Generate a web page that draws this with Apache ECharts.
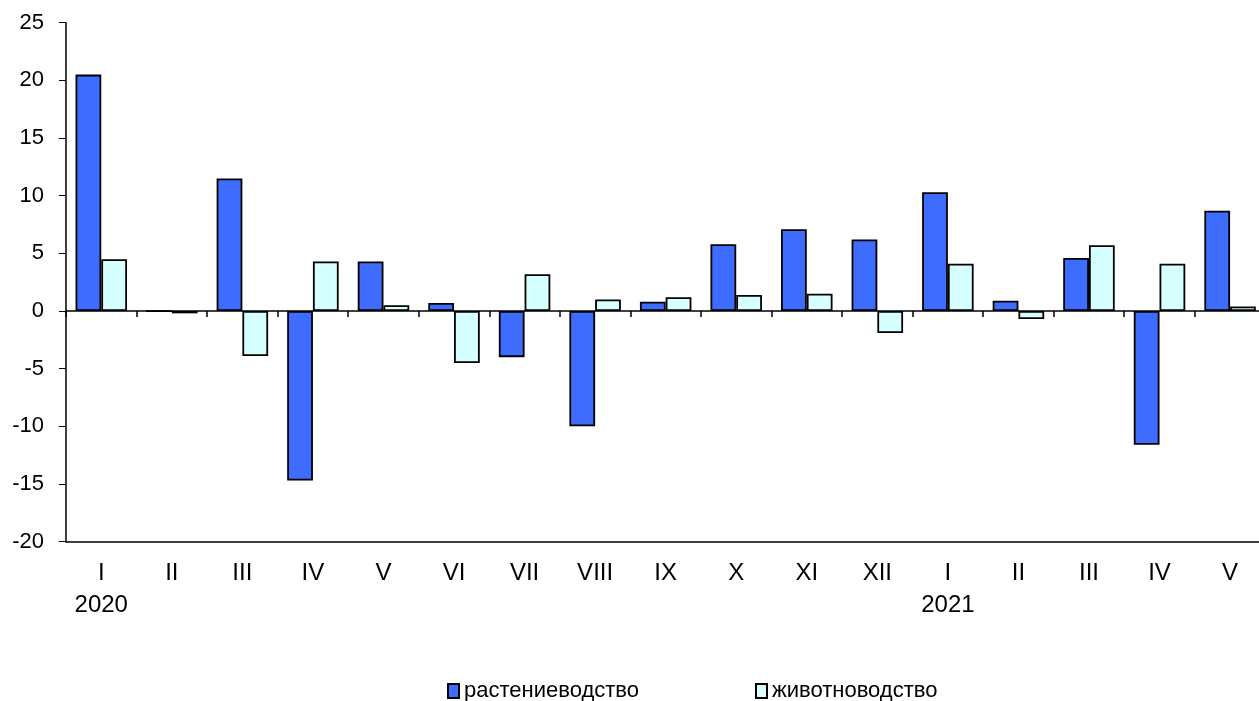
<!DOCTYPE html>
<html>
<head>
<meta charset="utf-8">
<script src="https://cdn.jsdelivr.net/npm/echarts@6/dist/echarts.min.js"></script>
<style>
  html, body { margin: 0; padding: 0; background: #fff; }
  #chart { width: 1259px; height: 701px; }
</style>
</head>
<body>
<div id="chart"></div>
<script>
    // месяцы и годы по оси X
    var months = ['I', 'II', 'III', 'IV', 'V', 'VI', 'VII', 'VIII', 'IX', 'X', 'XI', 'XII', 'I', 'II', 'III', 'IV', 'V'];
    var years = ['2020', '', '', '', '', '', '', '', '', '', '', '', '2021', '', '', '', ''];
    var yTicks = [-20, -15, -10, -5, 0, 5, 10, 15, 20, 25];

    var plantValues = [20.5, 0, 11.5, -14.7, 4.3, 0.7, -4.0, -10.0, 0.8, 5.8, 7.1, 6.2, 10.3, 0.9, 4.6, -11.6, 8.7];
    var animalValues = [4.5, -0.2, -3.9, 4.3, 0.5, -4.5, 3.2, 1.0, 1.2, 1.4, 1.5, -1.9, 4.1, -0.7, 5.7, 4.1, 0.4];

    var categories = months.map(function (m, i) {
        return years[i] ? m + '\n' + years[i] : m;
    });

    var FONT = 'Liberation Sans';
    var BLUE = '#3d6cff';
    var CYAN = '#d6ffff';

    var chart = echarts.init(document.getElementById('chart'));

    chart.setOption({
        animation: false,
        backgroundColor: '#fff',
        textStyle: { fontFamily: FONT, color: '#000' },
        grid: {
            left: 66,
            top: 22.7,
            width: 17 * 70.55,   // область построения обрезана справа, как в исходнике
            height: 519,
            outerBoundsMode: 'none'
        },
        legend: [{
            left: 442,
            top: 675,
            icon: 'rect',
            itemWidth: 11,
            itemHeight: 14,
            itemStyle: { borderColor: '#000', borderWidth: 2 },
            textStyle: { fontFamily: FONT, fontSize: 22, color: '#000' },
            data: ['растениеводство']
        }, {
            left: 750,
            top: 675,
            icon: 'rect',
            itemWidth: 11,
            itemHeight: 14,
            itemStyle: { borderColor: '#000', borderWidth: 2 },
            textStyle: { fontFamily: FONT, fontSize: 22, color: '#000' },
            data: ['животноводство']
        }],
        xAxis: [{
            type: 'category',
            data: categories,
            position: 'bottom',
            axisLine: { onZero: false, lineStyle: { color: '#000', width: 1.5 } },
            axisTick: { show: false },
            axisLabel: {
                interval: 0,
                margin: 16,
                fontSize: 24,
                lineHeight: 32,
                color: '#000',
                fontFamily: FONT
            },
            splitLine: { show: false }
        }, {
            // линия нуля с делениями между категориями
            type: 'category',
            data: categories,
            position: 'top',
            axisLine: { onZero: true, lineStyle: { color: '#000', width: 1.5 } },
            axisTick: { show: true, inside: true, length: 6, lineStyle: { color: '#000', width: 1.5 } },
            axisLabel: { show: false },
            splitLine: { show: false }
        }],
        yAxis: {
            type: 'value',
            min: yTicks[0],
            max: yTicks[yTicks.length - 1],
            interval: 5,
            axisLine: { show: true, lineStyle: { color: '#000', width: 1.5 } },
            axisTick: { show: true, length: 7, lineStyle: { color: '#000', width: 1 } },
            axisLabel: { margin: 22, fontSize: 22, color: '#000', fontFamily: FONT },
            splitLine: { show: false }
        },
        series: [{
            name: 'растениеводство',
            type: 'bar',
            barGap: '0%',
            barCategoryGap: '27%',
            itemStyle: { color: BLUE, borderColor: '#000', borderWidth: 1.8 },
            data: plantValues
        }, {
            name: 'животноводство',
            type: 'bar',
            itemStyle: { color: CYAN, borderColor: '#000', borderWidth: 1.8 },
            data: animalValues
        }]
    });
</script>
</body>
</html>
